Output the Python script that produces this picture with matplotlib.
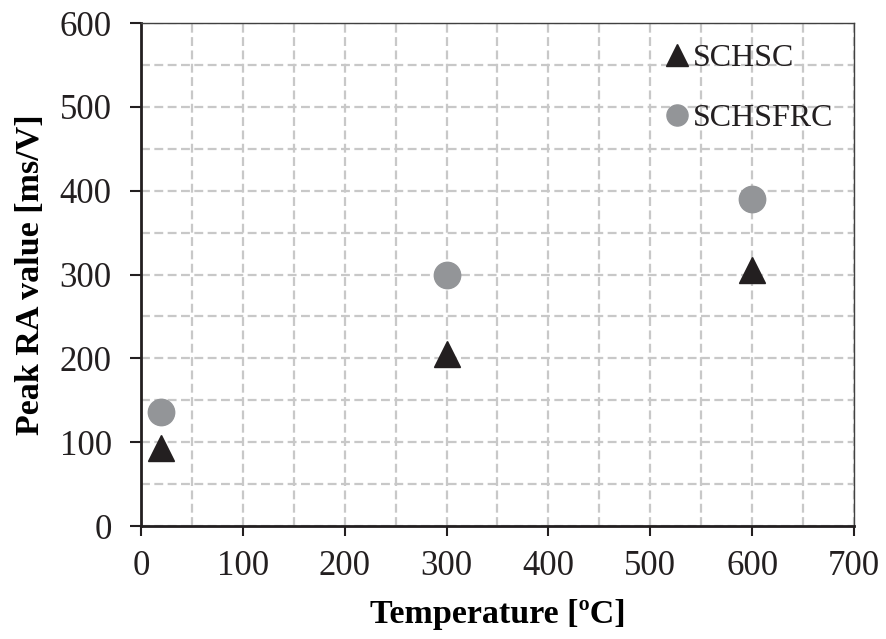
import numpy as np
import matplotlib.pyplot as plt
from matplotlib.ticker import MultipleLocator

# data
temp = [20, 300, 600]
schsc = [93, 205, 305]
schsfrc = [136, 300, 390]

plt.rcParams['font.family'] = ['Liberation Serif', 'DejaVu Serif']

fig = plt.figure(figsize=(8.86, 6.39), dpi=100)
ax = fig.add_axes([0.1591, 0.1768, 0.8048, 0.7872])

ax.plot(temp, schsc, linestyle='none', marker='^', markersize=19,
        color='#231f20', label='SCHSC', zorder=3, clip_on=False)
ax.plot(temp, schsfrc, linestyle='none', marker='o', markersize=19,
        color='#939598', label='SCHSFRC', zorder=3, clip_on=False)

ax.set_xlim(0, 700)
ax.set_ylim(0, 600)
ax.xaxis.set_major_locator(MultipleLocator(100))
ax.yaxis.set_major_locator(MultipleLocator(100))
ax.xaxis.set_minor_locator(MultipleLocator(50))
ax.yaxis.set_minor_locator(MultipleLocator(50))

# grid: major + minor, same grey dashes
ax.grid(which='both', color='#c8c8c8', linestyle=(0, (4, 2)), linewidth=1.6, zorder=0)
ax.set_axisbelow(True)

ax.tick_params(which='major', direction='out', width=1.5,
               labelsize=25, colors='#231f20')
ax.tick_params(which='minor', length=0)
ax.tick_params(axis='x', length=7, pad=10)
ax.tick_params(axis='y', length=8, pad=13)

for s in ['left', 'bottom']:
    ax.spines[s].set_linewidth(2)
    ax.spines[s].set_color('#231f20')
for s in ['top', 'right']:
    ax.spines[s].set_linewidth(1)
    ax.spines[s].set_color('#404040')

ax.set_xlabel('Temperature [ºC]', fontsize=24.5, fontweight='bold', labelpad=12)
ax.set_ylabel('Peak RA value [ms/V]', fontsize=24.5, fontweight='bold', labelpad=10)

leg = ax.legend(loc='upper right', bbox_to_anchor=(1.0, 1.0), frameon=False,
                fontsize=23, markerscale=0.8, handlelength=0.8,
                handletextpad=0.1, labelspacing=0.95, borderaxespad=0.25)
for t in leg.get_texts():
    t.set_color('#231f20')

fig.savefig('out.png', dpi=100)
